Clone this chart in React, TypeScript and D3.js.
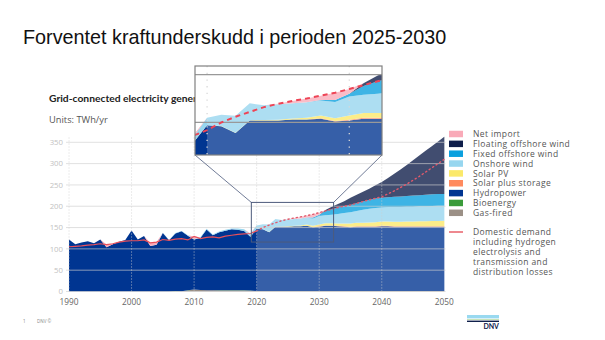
import React from 'react';
import * as d3 from 'd3';

const years = d3.range(1990, 2051);

const gasFired = [
  0, 0, 0, 0, 0, 0, 0, 0, 0, 0,
  0, 0, 0, 0, 0, 0, 0, 0.7, 0.5, 2.5,
  4.5, 3.5, 3, 3, 2.5, 2.5, 2.5, 2.5, 2.5, 2,
  1, 1, 1, 1, 1, 1, 1, 1, 1, 1,
  1, 1, 1, 1, 1, 1, 1, 1, 1, 1,
  1, 1, 1, 1, 1, 1, 1, 1, 1, 1, 1,
];
const bioenergy = [
  0.2, 0.2, 0.2, 0.2, 0.2, 0.2, 0.2, 0.2, 0.2, 0.2,
  0.2, 0.2, 0.2, 0.2, 0.2, 0.2, 0.2, 0.2, 0.2, 0.2,
  0.2, 0.2, 0.2, 0.2, 0.2, 0.2, 0.2, 0.2, 0.2, 0.2,
  0.2, 0.2, 0.2, 0.2, 0.2, 0.2, 0.2, 0.2, 0.2, 0.2,
  0.2, 0.2, 0.2, 0.2, 0.2, 0.2, 0.2, 0.2, 0.2, 0.2,
  0.2, 0.2, 0.2, 0.2, 0.2, 0.2, 0.2, 0.2, 0.2, 0.2, 0.2,
];
const hydropower = [
  121.8, 110.8, 114.8, 117.8, 112.8, 121.8, 103.8, 110.8, 116.8, 120.8,
  142.8, 121.8, 129.8, 106.6, 109.5, 137.3, 120.1, 135.2, 140.4, 128.3,
  117.4, 122, 142.2, 128.9, 136.1, 139.8, 143.2, 142.4, 139.4, 126.3,
  145.8, 144.8, 137.8, 150.8, 150.8, 150.8, 151.8, 151.8, 152.8, 149.8,
  150.8, 152.8, 152.8, 151.8, 150.8, 149.8, 150.8, 150.8, 150.8, 150.8,
  151.8, 151.8, 150.8, 150.8, 150.8, 150.8, 150.8, 150.8, 150.8, 150.8, 150.8,
];
const solarStorage = [
  0, 0, 0, 0, 0, 0, 0, 0, 0, 0,
  0, 0, 0, 0, 0, 0, 0, 0, 0, 0,
  0, 0, 0, 0, 0, 0, 0, 0, 0, 0,
  0, 0, 0, 0, 0, 0, 0, 0, 0.3, 0.5,
  0.8, 1, 1, 1, 1, 1, 1, 1, 1, 1,
  1, 1, 1, 1, 1, 1, 1.1, 1.1, 1.2, 1.2, 1.3,
];
const solarPV = [
  0, 0, 0, 0, 0, 0, 0, 0, 0, 0,
  0, 0, 0, 0, 0, 0, 0, 0, 0, 0,
  0, 0, 0, 0, 0, 0, 0, 0, 0, 0,
  0.1, 0.2, 0.3, 0.4, 0.6, 0.8, 1.2, 1.8, 3, 2.8,
  4.5, 5, 5, 5.5, 6.5, 7.5, 8, 8.5, 9, 9.5,
  10, 10.3, 10.6, 10.9, 11.2, 11.4, 11.6, 11.8, 12, 12.2, 12.4,
];
const onshoreWind = [
  0, 0, 0, 0, 0, 0, 0, 0, 0, 0,
  0, 0, 0, 0.2, 0.3, 0.5, 0.7, 0.9, 0.9, 1,
  0.9, 1.3, 1.6, 1.9, 2.2, 2.5, 2.1, 2.9, 3.9, 5.5,
  7.9, 11.8, 17.7, 17.6, 15.4, 16.2, 15.8, 16.2, 15.7, 17.2,
  19.7, 19, 20, 22.5, 24.5, 26.5, 28, 30.5, 32, 33.5,
  33, 33.7, 34.4, 34.6, 34.8, 34.6, 35.3, 35.1, 35.3, 35.6, 35.3,
];
const fixedOffshore = [
  0, 0, 0, 0, 0, 0, 0, 0, 0, 0,
  0, 0, 0, 0, 0, 0, 0, 0, 0, 0,
  0, 0, 0, 0, 0, 0, 0, 0, 0, 0,
  0, 0, 0, 0, 0, 0, 0, 0, 0.5, 2,
  3, 9, 13, 15, 16, 17, 18, 19, 21, 22,
  23, 23, 24, 24.5, 25, 26, 26, 27, 27.5, 27.5, 28,
];
const floatingOffshore = [
  0, 0, 0, 0, 0, 0, 0, 0, 0, 0,
  0, 0, 0, 0, 0, 0, 0, 0, 0, 0,
  0, 0, 0, 0, 0, 0, 0, 0, 0, 0,
  0, 0, 0, 0, 0, 0, 0, 0, 0, 0,
  0, 3, 6, 8, 12, 17, 20, 23, 26, 31,
  37, 45, 54, 63, 73, 83, 93, 103, 113, 123.5, 134,
];
const netImport = [
  0, 0, 0, 0, 0, 0, 6, 1, 0, 0,
  0, 0, 0, 7, 6, 0, 0, 0, 0, 0,
  6, 0, 0, 0, 0, 0, 0, 0, 0, 2,
  0, 0, 0, 0, 0, 0.5, 2.5, 4, 4.5, 7.5,
  5, 0, 0, 0, 0, 0, 0, 0, 0, 0,
  0, 0, 0, 0, 0, 0, 0, 0, 0, 0, 0,
];
const demand = [
  105, 106, 107, 109, 110, 112, 110, 112, 116, 118,
  119, 119, 121, 114, 116, 122, 120, 123, 124, 121,
  129, 124, 127, 128, 126, 130, 132, 134, 135, 136,
  142, 150, 156, 161, 166, 169.5, 172.5, 175, 178, 181,
  185, 189, 193, 197, 200, 203, 207, 211, 215, 218.5,
  222, 229, 236, 244, 252, 261, 270, 280, 290, 300, 310,
];

const yTicks = [0, 50, 100, 150, 200, 250, 300, 350];
const xTicks = [1990, 2000, 2010, 2020, 2030, 2040, 2050];
const forecastStart = 2020;
const zoomYears = [2019.15, 2032.3];
const zoomValues = [116, 209];

const seriesDefs = [
  { key: 'gas', label: 'Gas-fired', color: '#9b9086', values: gasFired },
  { key: 'bio', label: 'Bioenergy', color: '#3a9b3a', values: bioenergy },
  { key: 'hydro', label: 'Hydropower', color: '#003591', values: hydropower },
  { key: 'storage', label: 'Solar plus storage', color: '#ff8a5e', values: solarStorage },
  { key: 'pv', label: 'Solar PV', color: '#fbe96a', values: solarPV },
  { key: 'onshore', label: 'Onshore wind', color: '#97d6ef', values: onshoreWind },
  { key: 'fixed', label: 'Fixed offshore wind', color: '#0ba0de', values: fixedOffshore },
  { key: 'floating', label: 'Floating offshore wind', color: '#0e1e4a', values: floatingOffshore },
  { key: 'import', label: 'Net import', color: '#f9aab8', values: netImport },
];

const demandLabel = ['Domestic demand', 'including hydrogen', 'electrolysis and', 'transmission and', 'distribution losses'];

const FONT = '"Open Sans", Lato, sans-serif';
const BOLD_FONT = 'Lato, "Open Sans", sans-serif';

export default function App() {
  const rows = years.map((yr, i) => {
    const r: any = { year: yr };
    seriesDefs.forEach((s) => (r[s.key] = s.values[i]));
    return r;
  });
  const stacked = d3.stack<any>().keys(seriesDefs.map((s) => s.key))(rows);
  const demandRows = years.map((yr, i) => ({ year: yr, v: demand[i] }));

  const x = d3.scaleLinear().domain([1990, 2050]).range([69, 444.3]);
  const y = d3.scaleLinear().domain([0, 350]).range([291.5, 142.3]);

  const xi = d3.scaleLinear().domain(zoomYears).range([195, 382]);
  const yi = d3.scaleLinear().domain(zoomValues).range([155, 66]);

  const areaGen = (xs: any, ys: any) =>
    d3.area<any>().x((d) => xs(d.data.year)).y0((d) => ys(d[0])).y1((d) => ys(d[1]));
  const lineGen = (xs: any, ys: any) => d3.line<any>().x((d) => xs(d.year)).y((d) => ys(d.v));

  const mainArea = areaGen(x, y);
  const insetArea = areaGen(xi, yi);
  const mainLine = lineGen(x, y);
  const insetLine = lineGen(xi, yi);

  const hist = demandRows.filter((d) => d.year <= forecastStart);
  const fut = demandRows.filter((d) => d.year >= forecastStart);

  const zx0 = x(zoomYears[0]);
  const zx1 = x(zoomYears[1]);
  const zy0 = y(zoomValues[1]);
  const zy1 = y(zoomValues[0]);
  const ix0 = xi.range()[0];
  const ix1 = xi.range()[1];
  const iy0 = yi.range()[1];
  const iy1 = yi.range()[0];

  const legendItems = [...seriesDefs].reverse();

  return (
    <svg width={605} height={340} style={{ position: 'absolute', left: 0, top: 0, background: '#fff' }}>
      <defs>
        <clipPath id="insetClip">
          <rect x={ix0} y={iy0} width={ix1 - ix0} height={iy1 - iy0} />
        </clipPath>
      </defs>

      <text x={23} y={43.5} fontFamily='"Liberation Sans", Arial, sans-serif' fontSize={19.8} fill="#111">
        Forventet kraftunderskudd i perioden 2025-2030
      </text>

      <text x={49} y={102} fontFamily={BOLD_FONT} fontSize={10.3} fontWeight={700} fill="#222">
        Grid-connected electricity generation by power station type
      </text>
      <text x={49} y={123} fontFamily={FONT} fontSize={9.3} fill="#555">
        Units: TWh/yr
      </text>

      {/* main areas */}
      {stacked.map((s, i) => (
        <path key={s.key} d={mainArea(s) || ''} fill={seriesDefs[i].color} />
      ))}
      <rect x={x(forecastStart)} y={y(365)} width={x(2050) - x(forecastStart)} height={y(0) - y(365)} fill="#fff" opacity={0.21} />

      {/* grid */}
      {yTicks.map((t) => (
        <g key={t}>
          <line x1={66} x2={445.5} y1={y(t)} y2={y(t)} stroke="#cfcfcf" strokeOpacity={0.65} strokeWidth={1} />
          <text x={63} y={y(t) + 2.8} textAnchor="end" fontFamily={FONT} fontSize={7.8} fill="#c2c2c2">
            {t}
          </text>
        </g>
      ))}
      {xTicks.map((t) => (
        <g key={t}>
          {t < 2050 && (
            <line x1={x(t)} x2={x(t)} y1={y(0)} y2={y(366)} stroke="#cfcfcf" strokeWidth={0.8} strokeDasharray="1,2" />
          )}
          <text x={x(t)} y={305} textAnchor="middle" fontFamily={FONT} fontSize={8.3} fill="#666">
            {t}
          </text>
        </g>
      ))}

      {/* demand */}
      <path d={mainLine(hist) || ''} fill="none" stroke="#e8505b" strokeWidth={1.2} />
      <path d={mainLine(fut) || ''} fill="none" stroke="#e05a6c" strokeWidth={1.4} strokeDasharray="1.2,3" strokeLinecap="round" />

      {/* zoom window + connectors */}
      <rect x={zx0} y={zy0} width={zx1 - zx0} height={zy1 - zy0} fill="none" stroke="#4d5b7c" strokeWidth={1} />
      <line x1={ix0} y1={iy1} x2={zx0} y2={zy0} stroke="#4d5b7c" strokeWidth={0.8} />
      <line x1={ix1} y1={iy1} x2={zx1} y2={zy0} stroke="#4d5b7c" strokeWidth={0.8} />

      {/* inset */}
      <g clipPath="url(#insetClip)">
        <rect x={ix0} y={iy0} width={ix1 - ix0} height={iy1 - iy0} fill="#fff" />
        {stacked.map((s, i) => (
          <path key={s.key} d={insetArea(s) || ''} fill={seriesDefs[i].color} />
        ))}
        <rect x={xi(forecastStart)} y={iy0} width={ix1 - xi(forecastStart)} height={iy1 - iy0} fill="#fff" opacity={0.21} />
        {yTicks
          .filter((t) => t > zoomValues[0] && t < zoomValues[1])
          .map((t) => (
            <line key={t} x1={ix0} x2={ix1} y1={yi(t)} y2={yi(t)} stroke="#999" strokeWidth={1.2} />
          ))}
        {xTicks
          .filter((t) => t > zoomYears[0] && t < zoomYears[1])
          .map((t) => (
            <line key={t} x1={xi(t)} x2={xi(t)} y1={iy0} y2={iy1} stroke="#d8d8d8" strokeWidth={1.3} strokeDasharray="1.3,5.4" />
          ))}
        <path d={insetLine(demandRows) || ''} fill="none" stroke="#ee4455" strokeWidth={2} strokeDasharray="5,4" />
      </g>
      <rect x={ix0} y={iy0} width={ix1 - ix0} height={iy1 - iy0} fill="none" stroke="#808080" strokeWidth={1.2} />

      {/* legend */}
      {legendItems.map((s, i) => {
        const cy = 134 + i * 9.85;
        return (
          <g key={s.key}>
            <rect x={449} y={cy - 3.25} width={14} height={6.5} fill={s.color} />
            <text x={473} y={cy + 3.1} fontFamily={FONT} fontSize={8.5} letterSpacing={0.4} fill="#555">
              {s.label}
            </text>
          </g>
        );
      })}
      <line x1={449} x2={463} y1={232} y2={232} stroke="#e8606a" strokeWidth={1.5} />
      {demandLabel.map((t, i) => (
        <text key={t} x={473} y={235.1 + i * 9.9} fontFamily={FONT} fontSize={8.5} letterSpacing={0.4} fill="#555">
          {t}
        </text>
      ))}

      {/* footer */}
      <text x={23} y={322.5} fontFamily={FONT} fontSize={4.5} fill="#888">1</text>
      <text x={37} y={322.5} fontFamily={FONT} fontSize={4.5} fill="#888">DNV ©</text>
      <rect x={467} y={315} width={32} height={3.4} fill="#99d9f0" />
      <rect x={467} y={319} width={32} height={1} fill="#c9e3b8" />
      <rect x={467} y={320.6} width={32} height={1.4} fill="#0f204b" />
      <text x={499} y={329} textAnchor="end" fontFamily={BOLD_FONT} fontSize={7} fontWeight={700} fill="#0f204b">DNV</text>
    </svg>
  );
}
